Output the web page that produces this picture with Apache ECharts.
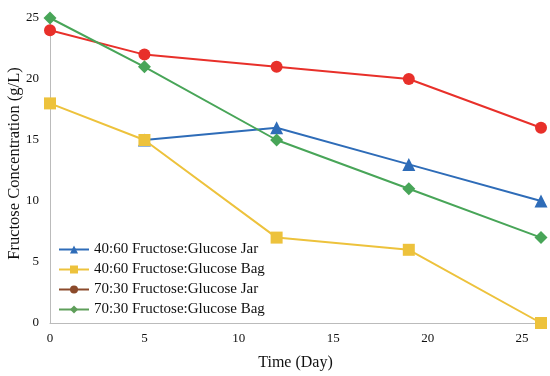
<!DOCTYPE html>
<html><head><meta charset="utf-8">
<script src="https://cdn.jsdelivr.net/npm/echarts@6/dist/echarts.min.js"></script>
<style>html,body{margin:0;padding:0;background:#fff}#c{width:550px;height:376px}</style>
</head><body><div id="c"></div>
<script>
const jar4060Days = [5, 12, 19, 26];
const jar4060 = [15, 16, 13, 10];
const bag4060Days = [0, 5, 12, 19, 26];
const bag4060 = [18, 15, 7, 6, 0];
const jar7030Days = [0, 5, 12, 19, 26];
const jar7030 = [24, 22, 21, 20, 16];
const bag7030Days = [0, 5, 12, 19, 26];
const bag7030 = [25, 21, 15, 11, 7];
const names = ['40:60 Fructose:Glucose Jar','40:60 Fructose:Glucose Bag','70:30 Fructose:Glucose Jar','70:30 Fructose:Glucose Bag'];

const pair = (xs, ys) => xs.map((x, i) => [x, ys[i]]);
const font = '"Liberation Serif","Times New Roman",serif';
const chart = echarts.init(document.getElementById('c'));
function mk(name, xs, ys, color, symbol, size, z) {
  return {name, type:'line', data: pair(xs, ys), symbol, symbolSize: size,
    lineStyle:{color, width:2}, itemStyle:{color}, z};
}
chart.setOption({
  animation:false,
  grid:{left:50, right:9, top:18, bottom:53, outerBoundsMode:'none', containLabel:false},
  xAxis:{type:'value', min:0, max:26, interval:5,
    name:'Time (Day)', nameLocation:'middle', nameGap:32, nameMoveOverlap:false,
    nameTextStyle:{fontFamily:font, fontSize:16, color:'#111'},
    axisLine:{lineStyle:{color:'#bbb'}}, axisTick:{show:false}, splitLine:{show:false},
    axisLabel:{fontFamily:font, fontSize:13, color:'#111', showMaxLabel:false, margin:9}},
  yAxis:{type:'value', min:0, max:25, interval:5,
    name:'Fructose Concentration (g/L)', nameLocation:'middle', nameGap:27, nameMoveOverlap:false,
    nameTextStyle:{fontFamily:font, fontSize:16.5, color:'#111', padding:[0,0,0,14]},
    axisLine:{show:true, lineStyle:{color:'#bbb'}}, axisTick:{show:false}, splitLine:{show:false},
    axisLabel:{fontFamily:font, fontSize:13, color:'#111', margin:11}},
  legend:{orient:'vertical', left:53, top:237, itemGap:5, itemWidth:30, itemHeight:10,
    textStyle:{fontFamily:font, fontSize:15, color:'#111'},
    data:[
      {name:names[0]},
      {name:names[1]},
      {name:names[2], itemStyle:{color:'#8B4A2B'}, lineStyle:{color:'#8B4A2B'}},
      {name:names[3], itemStyle:{color:'#5E9E5A'}, lineStyle:{color:'#5E9E5A'}}
    ]},
  series:[
    mk(names[0], jar4060Days, jar4060, '#2E6CB8', 'triangle', 13, 2),
    mk(names[1], bag4060Days, bag4060, '#EDC23C', 'rect', 12, 3),
    mk(names[2], jar7030Days, jar7030, '#E8302A', 'circle', 12, 2),
    mk(names[3], bag7030Days, bag7030, '#48A558', 'diamond', 13, 3)
  ]
});
</script></body></html>
